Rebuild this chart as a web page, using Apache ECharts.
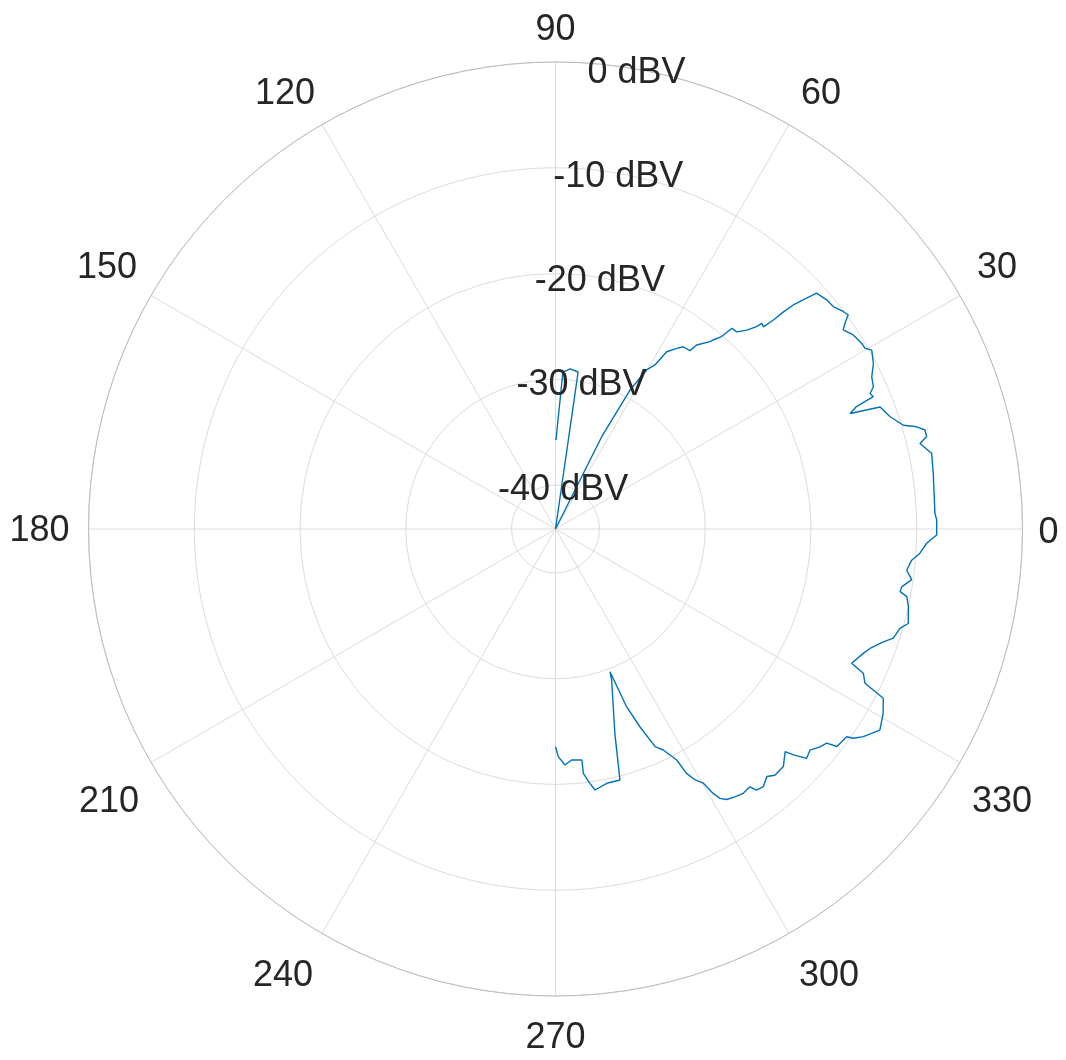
<!DOCTYPE html>
<html>
<head>
<meta charset="utf-8">
<script src="https://cdn.jsdelivr.net/npm/echarts@6/dist/echarts.min.js"></script>
<style>
html,body{margin:0;padding:0;background:#fff;}
#chart{width:1066px;height:1060px;}
</style>
</head>
<body>
<div id="chart"></div>
<script>
// Angle (degrees) of each sample
var angleDeg = [270, 270.7, 272.3, 274.0, 276.5, 276.5, 277.7, 278.6, 281.4, 284.4,
  286.2, 290.4, 290.9, 291.8, 293.1, 294.6, 296.0, 297.7, 298.2, 299.1,
  300.2, 300.8, 301.4, 302.3, 303.8, 305.4, 307.0, 307.6, 308.9, 310.5,
  311.7, 313.8, 315.9, 316.5, 317.6, 319.0, 320.5, 321.7, 322.3, 324.5,
  324.9, 326.0, 328.2, 330.6, 332.7, 333.5, 334.9, 335.6, 338.0, 339.2,
  341.0, 342.1, 343.9, 345.0, 347.6, 349.1, 349.7, 350.5, 351.9, 353.3,
  355.0, 356.2, 357.8, 359.1, 1.35, 2.4, 8.4, 11.4, 13.2, 14.0,
  15.0, 15.8, 16.6, 18.6, 20.6, 21.4, 22.1, 22.6, 23.3, 24.1,
  25.7, 27.5, 29.5, 30.3, 31.2, 33.1, 34.7, 35.4, 36.2, 37.1,
  38.7, 40.2, 42.1, 42.6, 43.3, 43.6, 43.8, 44.2, 44.9, 45.2,
  46.1, 47.4, 48.7, 49.2, 50.2, 50.5, 52.5, 53.0, 55.0, 56.1,
  57.9, 58.8, 60.2, 61.8, 63.4, 65, 81, 81.8, 84.8, 87.3,
  89.7];
// Level (dBV) of each sample
var levelDBV = [-23.57, -22.63, -21.82, -22.26, -22.18, -20.91, -19.89, -19.20, -19.63, -19.65,
  -24.04, -28.93, -29.71, -26.06, -23.83, -21.52, -20.91, -19.49, -17.94, -17.00,
  -16.35, -15.05, -14.32, -13.90, -13.68, -13.50, -13.63, -13.00, -12.86, -13.38,
  -12.98, -13.03, -13.92, -13.13, -12.00, -12.28, -11.76, -11.48, -10.53, -10.33,
  -9.74, -9.05, -8.07, -8.60, -9.28, -11.46, -12.02, -13.41, -12.77, -12.35,
  -11.38, -10.59, -10.26, -9.63, -9.99, -10.33, -11.04, -10.97, -10.14, -10.72,
  -10.35, -9.62, -9.03, -8.11, -8.10, -8.25, -8.05, -7.88, -8.76, -7.99,
  -7.99, -8.66, -9.83, -10.80, -11.37, -14.24, -13.49, -11.61, -11.77, -11.23,
  -10.97, -10.27, -9.80, -10.27, -10.30, -10.55, -11.07, -10.58, -9.86, -10.06,
  -10.51, -10.59, -10.89, -11.90, -13.27, -14.39, -15.61, -16.74, -16.61, -17.18,
  -18.06, -18.83, -18.90, -20.12, -20.90, -21.20, -22.23, -23.04, -23.12, -23.58,
  -24.37, -26.02, -26.83, -29.25, -34.40, -50, -50, -29.16, -28.96, -29.30,
  -35.74];
// Radial tick labels (dBV) and radial limits
var rTicks = [-40, -30, -20, -10, 0];
var rMin = -44.16, rMax = 0;
var rLabelAngle = 80;
var angleTicks = [0, 30, 60, 90, 120, 150, 180, 210, 240, 270, 300, 330];

var n = Math.min(angleDeg.length, levelDBV.length);
var lineData = [];
for (var i = 0; i < n; i++) {
  lineData.push([Math.max(rMin, Math.min(rMax, levelDBV[i])), angleDeg[i]]);
}
var labelData = rTicks.map(function (v) { return [v, rLabelAngle]; });

var FONT = '"Liberation Sans", Arial, Helvetica, sans-serif';
var TXT = '#262626';
// per-label padding [top, right, bottom, left] to mimic the reference placement
var pads = {
  0: [8, 0, 0, 2], 30: [0, 0, 2, 5], 60: [0, 0, 0, 5], 90: [0, 0, 0, 0],
  120: [0, 0, 0, 0], 150: [0, 2, 2, 0], 180: [4, 5, 0, 0], 210: [15, 0, 0, 0],
  240: [13, 2, 0, 0], 270: [10, 0, 0, 0], 300: [13, 0, 0, 3], 330: [15, 0, 0, 0]
};
var rich = {};
angleTicks.forEach(function (t) {
  rich['p' + t] = { padding: pads[t], fontSize: 36, color: TXT, fontFamily: FONT };
});

var chart = echarts.init(document.getElementById('chart'), null, {renderer: 'canvas'});
chart.setOption({
  backgroundColor: '#ffffff',
  animation: false,
  polar: { center: [555.5, 529], radius: 467 },
  angleAxis: {
    type: 'value', min: 0, max: 360, interval: 30,
    startAngle: 0, clockwise: false,
    axisLine: { show: true, lineStyle: { color: '#bdbdbd', width: 1 } },
    axisTick: { show: false },
    axisLabel: {
      show: true, margin: 14, fontSize: 36, color: TXT, fontFamily: FONT,
      rich: rich,
      formatter: function (v) { return angleTicks.indexOf(v) >= 0 ? '{p' + v + '|' + v + '}' : ''; }
    },
    splitLine: { show: true, lineStyle: { color: '#dcdcdc', width: 1 } }
  },
  radiusAxis: {
    type: 'value', min: rMin, max: rMax, splitNumber: 5,
    axisLine: { show: false },
    axisTick: { show: false },
    axisLabel: { show: false },
    splitLine: { show: true, lineStyle: { color: '#dcdcdc', width: 1 } }
  },
  series: [
    {
      type: 'line', coordinateSystem: 'polar', data: lineData,
      showSymbol: false, symbol: 'none', smooth: false,
      lineStyle: { color: '#0072BD', width: 1.4 },
      z: 3
    },
    {
      type: 'scatter', coordinateSystem: 'polar', data: labelData,
      symbolSize: 0, silent: true, z: 4,
      itemStyle: { opacity: 1 },
      label: {
        show: true, position: 'inside', offset: [0, 4], fontSize: 36, color: TXT, fontFamily: FONT,
        opacity: 1,
        formatter: function (p) { return p.value[0] + ' dBV'; }
      }
    }
  ]
});
</script>
</body>
</html>
